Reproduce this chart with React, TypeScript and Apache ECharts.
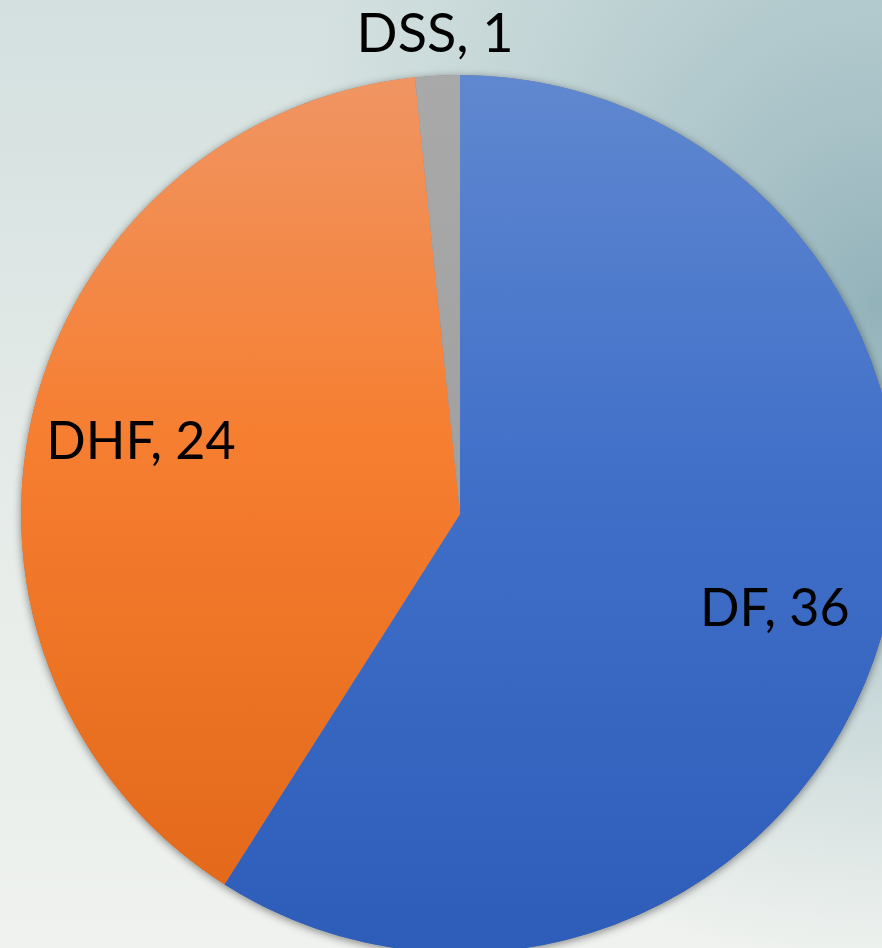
import React, { useEffect, useRef } from "react";
import * as echarts from "echarts";

const categories = ["DF", "DHF", "DSS"];
const values = [36, 24, 1];

const sliceColors = [
  { top: "#6088d0", mid: "#4170c9", bottom: "#2d5db9" },
  { top: "#f09563", mid: "#f67e30", bottom: "#e4691a" },
  { top: "#a9a9a9", mid: "#a5a5a5", bottom: "#a0a0a0" },
];

const FONT = "Lato, 'Open Sans', sans-serif";
const CENTER = [460, 514];
const R = 439;

export default function App() {
  const ref = useRef<HTMLDivElement>(null);

  useEffect(() => {
    if (!ref.current) return;
    const chart = echarts.init(ref.current, undefined, { renderer: "svg" });

    const grad = (c: { top: string; mid: string; bottom: string }) =>
      new echarts.graphic.LinearGradient(0, 0, 0, 1, [
        { offset: 0, color: c.top },
        { offset: 0.45, color: c.mid },
        { offset: 1, color: c.bottom },
      ]);

    const total = values.reduce((a, b) => a + b, 0);

    chart.setOption({
      animation: false,
      backgroundColor: new echarts.graphic.LinearGradient(0, 0, 0, 1, [
        { offset: 0, color: "#d3e0df" },
        { offset: 0.5, color: "#e5ebe8" },
        { offset: 1, color: "#eff2ef" },
      ]),
      graphic: [
        {
          type: "rect",
          z: -9,
          silent: true,
          shape: { x: 0, y: 0, width: 882, height: 948 },
          style: {
            fill: new echarts.graphic.RadialGradient(1, 0.32, 0.7, [
              { offset: 0, color: "rgba(146,178,186,1)" },
              { offset: 0.45, color: "rgba(156,186,193,0.6)" },
              { offset: 1, color: "rgba(170,196,200,0)" },
            ]),
          },
        },
      ],
      series: [
        {
          type: "pie",
          silent: true,
          z: 1,
          center: CENTER,
          radius: R,
          label: { show: false },
          labelLine: { show: false },
          itemStyle: {
            color: "#888",
            borderWidth: 0,
            shadowBlur: 8,
            shadowColor: "rgba(0,0,0,0.45)",
            shadowOffsetY: 2,
          },
          data: [{ name: "", value: total }],
        },
        {
          type: "pie",
          silent: true,
          z: 2,
          center: CENTER,
          radius: R,
          startAngle: 90,
          clockwise: true,
          avoidLabelOverlap: false,
          label: { show: false },
          labelLine: { show: false },
          data: categories.map((name, i) => ({
            name,
            value: values[i],
            itemStyle: { color: grad(sliceColors[i]), borderWidth: 0 },
          })),
        },
        {
          type: "pie",
          silent: true,
          z: 3,
          center: CENTER,
          radius: [R * 0.48, R],
          startAngle: 90,
          clockwise: true,
          avoidLabelOverlap: false,
          itemStyle: { color: "rgba(0,0,0,0)", borderWidth: 0 },
          label: {
            show: true,
            position: "inside",
            formatter: "{b}, {c}",
            color: "#000",
            fontFamily: FONT,
            fontSize: 52,
          },
          labelLine: { show: false },
          labelLayout: (p: any) =>
            p.dataIndex === 2 ? { align: "center", dx: 5 } : {},
          data: categories.map((name, i) => ({
            name,
            value: values[i],
            ...(i === 2
              ? {
                  label: { position: "outside", distanceToLabelLine: 5, fontSize: 54 },
                  labelLine: { show: false, length: 44, length2: 0 },
                }
              : {}),
          })),
        },
      ],
    });

    return () => chart.dispose();
  }, []);

  return (
    <div
      ref={ref}
      style={{ position: "fixed", left: 0, top: 0, width: 882, height: 948 }}
    />
  );
}
